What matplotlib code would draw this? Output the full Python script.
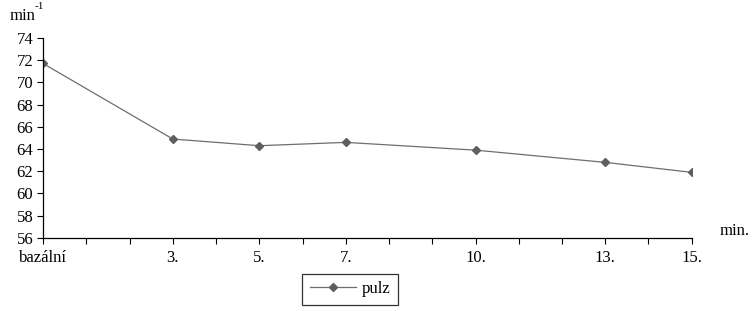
import matplotlib.pyplot as plt

# minutes after baseline ("bazální" = 0)
minutes = [0, 3, 5, 7, 10, 13, 15]
tick_labels = ["bazální", "3.", "5.", "7.", "10.", "13.", "15."]
pulz = [71.7, 64.9, 64.3, 64.6, 63.9, 62.8, 61.9]

plt.rcParams["font.family"] = ["Liberation Serif", "DejaVu Serif"]
plt.rcParams["font.size"] = 12

fig = plt.figure(figsize=(7.56, 3.11), dpi=100)
ax = fig.add_axes([0.057, 0.235, 0.858, 0.643])

ax.plot(minutes, pulz, color="#6e6e6e", linewidth=0.9, marker="D",
        markersize=4.5, markerfacecolor="#5f5f5f", markeredgecolor="#5f5f5f",
        label="pulz")

ax.set_xlim(0, 15)
ax.set_ylim(56, 74)
ax.set_yticks(range(56, 75, 2))
ax.set_xticks(range(0, 16), minor=True)
ax.set_xticks(minutes)
ax.set_xticklabels(tick_labels)
ax.tick_params(which="both", direction="out", length=4, width=0.8,
               color="black")
ax.tick_params(axis="x", pad=5)
ax.tick_params(axis="y", pad=3)
ax.spines[["top", "right"]].set_visible(False)
for side in ["left", "bottom"]:
    ax.spines[side].set_linewidth(0.9)
    ax.spines[side].set_clip_on(False)

fig.text(0.013, 0.937, "min", fontsize=12)
fig.text(0.046, 0.995, "-1", fontsize=8, va="top")
fig.text(0.952, 0.245, "min.", fontsize=12)

leg = fig.legend(loc="center", bbox_to_anchor=(0.463, 0.07), frameon=True,
                 fancybox=False, edgecolor="black", handlelength=2.8,
                 borderpad=0.45, handletextpad=0.3)
leg.get_frame().set_linewidth(0.9)

fig.savefig("out.png", dpi=100)
